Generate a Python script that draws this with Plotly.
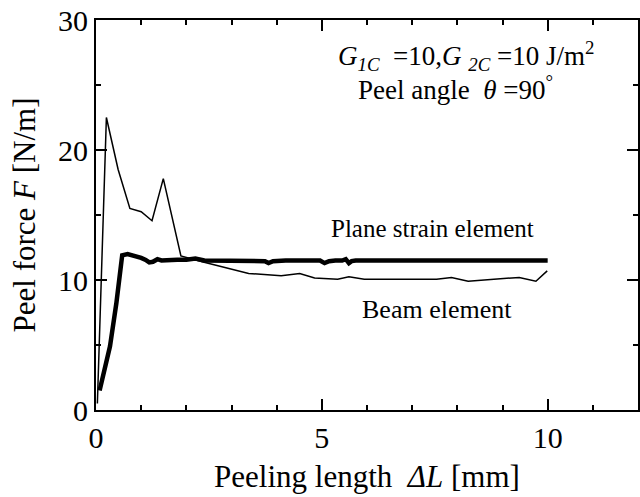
import plotly.graph_objects as go

# Beam element (thin line)
beam_x = [0.03, 0.12, 0.23, 0.49, 0.75, 1.0, 1.24, 1.49, 1.88, 2.35, 3.38, 4.1, 4.51, 4.84,
          5.35, 5.6, 5.94, 7.54, 7.87, 8.24, 9.37, 9.74, 9.99]
beam_y = [0.5, 10.0, 22.5, 18.5, 15.5, 15.25, 14.56, 17.8, 11.85, 11.4, 10.5, 10.33, 10.5, 10.15,
          10.05, 10.25, 10.05, 10.05, 10.2, 9.9, 10.2, 9.9, 10.7]

# Plane strain element (thick line)
plane_x = [0.08, 0.2, 0.31, 0.45, 0.52, 0.58, 0.7, 0.89, 1.0, 1.1, 1.18, 1.26, 1.36, 1.45, 1.6,
           1.8, 2.0, 2.2, 2.4, 2.8, 3.2, 3.6, 3.74, 3.82, 3.92, 4.2, 4.6, 4.96, 5.06, 5.16, 5.3,
           5.45, 5.53, 5.6, 5.66, 5.75, 6.0, 6.5, 7.0, 7.5, 8.0, 8.5, 9.0, 9.5, 10.0]
plane_y = [1.5, 3.2, 4.9, 8.2, 10.0, 11.9, 12.0, 11.85, 11.7, 11.55, 11.35, 11.4, 11.6, 11.5, 11.55,
           11.55, 11.55, 11.65, 11.5, 11.5, 11.5, 11.5, 11.45, 11.3, 11.45, 11.5, 11.5, 11.5, 11.3, 11.45, 11.5,
           11.5, 11.6, 11.3, 11.45, 11.5, 11.5, 11.5, 11.5, 11.5, 11.5, 11.5, 11.5, 11.5, 11.5]

x_ticks = [0, 5, 10]
y_ticks = [0, 10, 20, 30]

FONT = "'Liberation Serif', 'Times New Roman', Times, serif"

fig = go.Figure()
fig.add_trace(go.Scatter(x=beam_x, y=beam_y, mode="lines",
                         line=dict(color="black", width=1.5), showlegend=False))
fig.add_trace(go.Scatter(x=plane_x, y=plane_y, mode="lines",
                         line=dict(color="black", width=4.5), showlegend=False))

annos = [
    (8.2, 27.25, "<i>G</i><sub><i>1C</i></sub>  =10,<i>G</i> <sub><i>2C</i></sub> =10 J/m<sup>2</sup>", 27),
    (7.95, 24.75, "Peel angle  <i>θ</i> =90<sup>°</sup>", 27),
    (7.45, 13.95, "Plane strain element", 25),
    (7.55, 7.7, "Beam element", 26),
]
for ax, ay, txt, fs in annos:
    fig.add_annotation(x=ax, y=ay, text=txt, showarrow=False,
                       xref="x", yref="y", font=dict(family=FONT, size=fs, color="black"))

fig.update_xaxes(range=[0, 12], tickvals=x_ticks, ticks="inside", ticklen=11, tickwidth=1.5,
                 tickcolor="black", showline=True, linecolor="black", linewidth=2, mirror="ticks",
                 showgrid=False, zeroline=False,
                 minor=dict(dtick=1, ticks="inside", ticklen=5, tickwidth=1.5, tickcolor="black", showgrid=False),
                 tickfont=dict(family=FONT, size=30, color="black"),
                 title=dict(text="Peeling length  <i>ΔL</i> [mm]", font=dict(family=FONT, size=31, color="black"),
                            standoff=12))
fig.update_yaxes(range=[0, 30], tickvals=y_ticks, ticks="inside", ticklen=11, tickwidth=1.5,
                 tickcolor="black", showline=True, linecolor="black", linewidth=2, mirror="ticks",
                 showgrid=False, zeroline=False,
                 minor=dict(dtick=5, ticks="inside", ticklen=5, tickwidth=1.5, tickcolor="black", showgrid=False),
                 tickfont=dict(family=FONT, size=30, color="black"),
                 title=dict(text="Peel force <i>F</i> [N/m]", font=dict(family=FONT, size=31, color="black"),
                            standoff=13))

fig.update_layout(width=640, height=497, margin=dict(l=96, r=0, t=20, b=87),
                  paper_bgcolor="white", plot_bgcolor="white",
                  font=dict(family=FONT, color="black"))

fig.write_html("out.html")
